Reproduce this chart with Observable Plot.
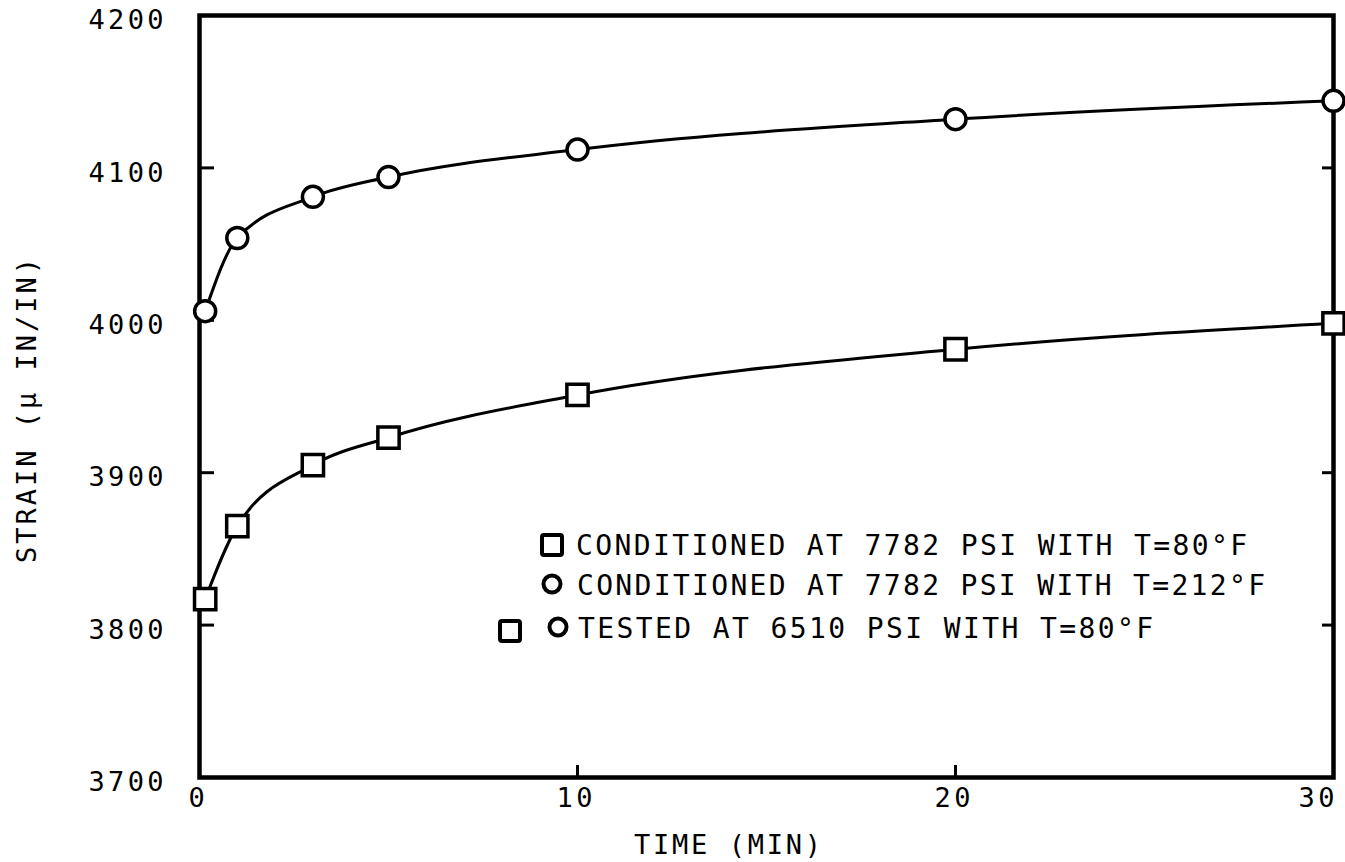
<!DOCTYPE html>
<html><head><meta charset="utf-8">
<script src="https://cdn.jsdelivr.net/npm/d3@7"></script>
<script src="https://cdn.jsdelivr.net/npm/@observablehq/plot@0.6"></script>
<style>
body{margin:0;background:#fff;}
#wrap{position:relative;width:1345px;height:862px;}
#legend{position:absolute;left:0;top:0;pointer-events:none;}
</style></head><body><div id="wrap"></div>
<script>
const times = [0.15, 1, 3, 5, 10, 20, 30];
const strain80 = [3817, 3865, 3905, 3923, 3951, 3981, 3998];
const strain212 = [4006, 4054, 4081, 4094, 4112, 4132, 4144];
const yTicks = [3700, 3800, 3900, 4000, 4100, 4200];
const xTicks = [0, 10, 20, 30];
const xLabel = "TIME (MIN)";
const yLabel = "STRAIN (\u03bc IN/IN)";
const legendLabels = [
  "CONDITIONED AT 7782 PSI WITH T=80\u00b0F",
  "CONDITIONED AT 7782 PSI WITH T=212\u00b0F",
  "TESTED AT 6510 PSI WITH T=80\u00b0F"
];

const d80 = times.map((t, i) => ({series: "80", time: t, strain: strain80[i]}));
const d212 = times.map((t, i) => ({series: "212", time: t, strain: strain212[i]}));
const data = d80.concat(d212);

const font = "'DejaVu Sans Mono', 'Liberation Mono', monospace";
const fs = 27;

const plot = Plot.plot({
  width: 1345, height: 862,
  marginLeft: 199, marginRight: 12, marginTop: 15, marginBottom: 85,
  style: {fontFamily: font, fontSize: fs + "px", background: "#fff", color: "#000"},
  x: {domain: [0, 30]},
  y: {domain: [3700, 4200]},
  marks: [
    Plot.axisY(yTicks.slice(1, -1), {anchor: "left", tickSize: -15, strokeWidth: 3, text: null, label: null}),
    Plot.axisY(yTicks.slice(1, -1), {anchor: "right", tickSize: -12, strokeWidth: 3, text: null, label: null}),
    Plot.axisY(yTicks, {anchor: "left", tickSize: 0, tickPadding: 36, dy: 5, fontSize: fs, label: null, tickFormat: d => String(d)}),
    Plot.axisX(xTicks.slice(1, -1), {anchor: "bottom", tickSize: -12, strokeWidth: 3, text: null, label: null}),
    Plot.axisX(xTicks.slice(0, -1), {anchor: "bottom", tickSize: 0, tickPadding: 10, dx: -3, fontSize: fs, label: null, tickFormat: d => String(d)}),
    Plot.axisX(xTicks.slice(-1), {anchor: "bottom", tickSize: 0, tickPadding: 10, dx: -17, fontSize: fs, label: null, tickFormat: d => String(d)}),
    Plot.frame({strokeWidth: 4.5}),
    Plot.line(data, {x: "time", y: "strain", z: "series", curve: "monotone-x", stroke: "black", strokeWidth: 3}),
    Plot.dot(d80, {x: "time", y: "strain", symbol: "square", r: 12, fill: "white", stroke: "black", strokeWidth: 3.5}),
    Plot.dot(d212, {x: "time", y: "strain", symbol: "circle", r: 10.5, fill: "white", stroke: "black", strokeWidth: 3.5}),
    Plot.text([yLabel], {text: d => d, frameAnchor: "left", textAnchor: "middle", lineAnchor: "middle", rotate: -90, dx: -172, dy: 14, fontSize: fs}),
    Plot.text([xLabel], {text: d => d, frameAnchor: "bottom", textAnchor: "middle", lineAnchor: "middle", dx: -39, dy: 68, fontSize: fs})
  ]
});

document.getElementById("wrap").appendChild(plot);

// Typewriter-like spacing for texts
const svgSel = d3.select(plot);
svgSel.selectAll("text").each(function() {
  const t = this.textContent;
  if (t === yLabel) this.setAttribute("textLength", 305);
  else if (t === xLabel) this.setAttribute("textLength", 187);
  else if (/^\d{4}$/.test(t)) this.setAttribute("textLength", 75);
  else if (/^\d{2}$/.test(t)) this.setAttribute("textLength", 36);
});

// Legend overlay
const leg = d3.select("#wrap").append("svg")
  .attr("id", "legend").attr("width", 1345).attr("height", 862);
const rows = [
  {y: 545, syms: [{type: "square", x: 552, y: 545}], textX: 576, textLen: 671},
  {y: 585, syms: [{type: "circle", x: 552, y: 584}], textX: 577, textLen: 688},
  {y: 628, syms: [{type: "square", x: 510, y: 631}, {type: "circle", x: 558, y: 627}], textX: 578, textLen: 575}
];
rows.forEach((r, i) => {
  r.syms.forEach(s => {
    if (s.type === "square") {
      leg.append("rect").attr("x", s.x - 10).attr("y", s.y - 10).attr("width", 20).attr("height", 20)
        .attr("rx", 2).attr("fill", "white").attr("stroke", "black").attr("stroke-width", 4);
    } else {
      leg.append("circle").attr("cx", s.x).attr("cy", s.y).attr("r", 8.5)
        .attr("fill", "white").attr("stroke", "black").attr("stroke-width", 4);
    }
  });
  leg.append("text").attr("x", r.textX).attr("y", r.y)
    .attr("dominant-baseline", "central")
    .attr("font-family", font).attr("font-size", 28)
    .attr("textLength", r.textLen).attr("lengthAdjust", "spacing")
    .text(legendLabels[i]);
});
</script>
</body></html>
